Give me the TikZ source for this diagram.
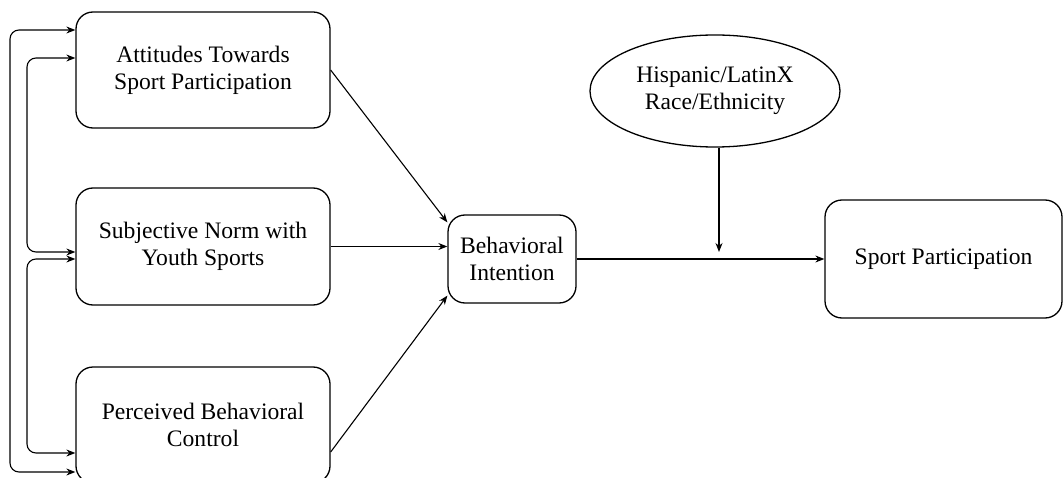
\documentclass[tikz,border=0pt]{standalone}
\usepackage{fontspec}
\setmainfont{Liberation Serif}
\newfontfamily\boxfont{Liberation Serif}
\usepackage{tikz}
\usetikzlibrary{arrows.meta,shapes,positioning,calc}
\tikzstyle{arrow} = [line width=1.1pt,-{Stealth[length=9pt,width=7pt]}]
\tikzstyle{twoway} = [line width=1.1pt,{Stealth[length=9pt,width=7pt]}-{Stealth[length=9pt,width=7pt]},rounded corners=9pt]
\tikzstyle{varbox} = [rectangle, rounded corners=17pt, draw, line width=1.3pt, align=center, font=\boxfont\fontsize{23.6}{27}\selectfont]

\begin{document}
\begin{tikzpicture}[x=1pt, y=-1pt]
\useasboundingbox (0,0) rectangle (1064,478);
% Predictors
\node[varbox, minimum width=254pt, minimum height=116pt] (att) at (203,70) {Attitudes Towards\\Sport Participation};
\node[varbox, minimum width=254pt, minimum height=117pt] (norm) at (203,246.5) {Subjective Norm with\\Youth Sports};
\node[varbox, minimum width=254pt, minimum height=116pt] (pbc) at (203,425) {Perceived Behavioral\\Control};

% Intention and outcome
\node[varbox, minimum width=128pt, minimum height=88pt] (intent) at (512,259) {Behavioral\\Intention};
\node[varbox, minimum width=237pt, minimum height=118pt] (sport) at (943.5,259) {Sport Participation};
\node[ellipse, draw, line width=1.3pt, minimum width=250pt, minimum height=112pt, align=center, font=\boxfont\fontsize{23.6}{27}\selectfont] (race) at (715,91) {Hispanic/LatinX\\Race/Ethnicity};

% Paths into intention
\draw[arrow] (att.east) -- ($(intent.north west)+(0,8)$);
\draw[arrow] (norm.east) -- (norm.east -| intent.west);
\draw[arrow] ($(pbc.east)+(0,27)$) -- ($(intent.south west)+(0,-8)$);
\draw[arrow] (intent.east) -- (sport.west);

% Moderator
\coordinate (mod) at (race.south |- intent.east);
\draw[arrow] ([xshift=4pt]race.south) -- ([xshift=4pt,yshift=7pt]mod);

% Correlations
\draw[twoway] ($(att.west)+(0,-40)$) -| (10,250) |- ($(pbc.west)+(0,47)$);
\draw[twoway] ($(att.west)+(0,-12)$) -| (27,150) |- ($(norm.west)+(0,5.5)$);
\draw[twoway] ($(norm.west)+(0,12.5)$) -| (27,350) |- ($(pbc.west)+(0,28)$);
\end{tikzpicture}
\end{document}
